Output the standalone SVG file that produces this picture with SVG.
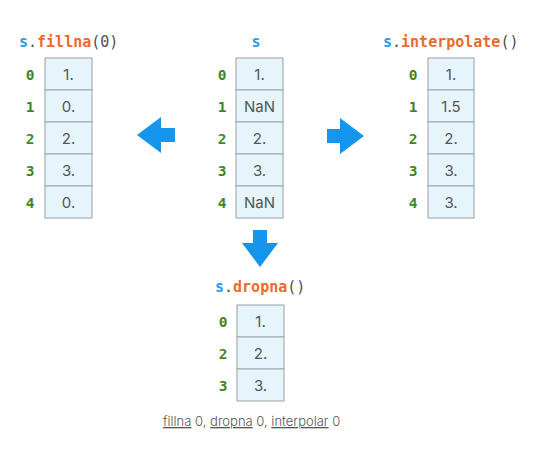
<svg xmlns="http://www.w3.org/2000/svg" width="536" height="452" viewBox="0 0 536 452">
<style>
.cell{fill:#e6f4fc;stroke:#a9aeb2;stroke-width:1.2}
.val{font-family:Inter,"Noto Sans","DejaVu Sans",sans-serif;font-size:15px;fill:#555;text-anchor:middle}
.idx{font-family:"DejaVu Sans Mono",monospace;font-size:14.5px;font-weight:bold;fill:#3f8526;text-anchor:middle}
.title{font-family:"DejaVu Sans Mono",monospace;font-size:15px;font-weight:bold}
.s{fill:#2b9ce6}
.m{fill:#ec6a2c}
.p{fill:#505050;font-weight:normal}
.arrow{fill:#1596ee}
.cap{font-family:Inter,"Noto Sans",sans-serif;font-size:13px;font-weight:300;fill:#555}
.u{text-decoration:underline}
</style>
<rect width="536" height="452" fill="#fff"/>

<g id="fillna">
<text class="title" x="19" y="47"><tspan class="s">s</tspan><tspan class="p">.</tspan><tspan class="m">fillna</tspan><tspan class="p">(0)</tspan></text>
<rect class="cell" x="45" y="58" width="47" height="32"/>
<rect class="cell" x="45" y="90" width="47" height="32"/>
<rect class="cell" x="45" y="122" width="47" height="32"/>
<rect class="cell" x="45" y="154" width="47" height="32"/>
<rect class="cell" x="45" y="186" width="47" height="32"/>
<text class="idx" x="30" y="80">0</text><text class="idx" x="30" y="112">1</text><text class="idx" x="30" y="144">2</text><text class="idx" x="30" y="176">3</text><text class="idx" x="30" y="208">4</text>
<text class="val" x="68.5" y="80">1.</text><text class="val" x="68.5" y="112">0.</text><text class="val" x="68.5" y="144">2.</text><text class="val" x="68.5" y="176">3.</text><text class="val" x="68.5" y="208">0.</text>
</g>

<g id="s">
<text class="title s" x="256" y="47" text-anchor="middle">s</text>
<rect class="cell" x="236" y="58" width="47" height="32"/>
<rect class="cell" x="236" y="90" width="47" height="32"/>
<rect class="cell" x="236" y="122" width="47" height="32"/>
<rect class="cell" x="236" y="154" width="47" height="32"/>
<rect class="cell" x="236" y="186" width="47" height="32"/>
<text class="idx" x="222" y="80">0</text><text class="idx" x="222" y="112">1</text><text class="idx" x="222" y="144">2</text><text class="idx" x="222" y="176">3</text><text class="idx" x="222" y="208">4</text>
<text class="val" x="259.5" y="80">1.</text><text class="val" x="259.5" y="112">NaN</text><text class="val" x="259.5" y="144">2.</text><text class="val" x="259.5" y="176">3.</text><text class="val" x="259.5" y="208">NaN</text>
</g>

<g id="interpolate">
<text class="title" x="383" y="47"><tspan class="s">s</tspan><tspan class="p">.</tspan><tspan class="m">interpolate</tspan><tspan class="p">()</tspan></text>
<rect class="cell" x="428" y="58" width="46" height="32"/>
<rect class="cell" x="428" y="90" width="46" height="32"/>
<rect class="cell" x="428" y="122" width="46" height="32"/>
<rect class="cell" x="428" y="154" width="46" height="32"/>
<rect class="cell" x="428" y="186" width="46" height="32"/>
<text class="idx" x="413" y="80">0</text><text class="idx" x="413" y="112">1</text><text class="idx" x="413" y="144">2</text><text class="idx" x="413" y="176">3</text><text class="idx" x="413" y="208">4</text>
<text class="val" x="451" y="80">1.</text><text class="val" x="451" y="112">1.5</text><text class="val" x="451" y="144">2.</text><text class="val" x="451" y="176">3.</text><text class="val" x="451" y="208">3.</text>
</g>

<g id="dropna">
<text class="title" x="215" y="292"><tspan class="s">s</tspan><tspan class="p">.</tspan><tspan class="m">dropna</tspan><tspan class="p">()</tspan></text>
<rect class="cell" x="237" y="305" width="47" height="32"/>
<rect class="cell" x="237" y="337" width="47" height="32"/>
<rect class="cell" x="237" y="369" width="47" height="32"/>
<text class="idx" x="223" y="327">0</text><text class="idx" x="223" y="359">2</text><text class="idx" x="223" y="391">3</text>
<text class="val" x="260.5" y="327">1.</text><text class="val" x="260.5" y="359">2.</text><text class="val" x="260.5" y="391">3.</text>
</g>

<g id="connectors">
<polygon class="arrow" points="137,135 161,117 161,128 175,128 175,142 161,142 161,153"/>
<polygon class="arrow" points="364,136 340,118 340,129 327,129 327,143 340,143 340,154"/>
<polygon class="arrow" points="260,267 242,243 253,243 253,230 267,230 267,243 278,243"/>
</g>

<text class="cap" x="163" y="426"><tspan class="u">fillna</tspan> 0, <tspan class="u">dropna</tspan> 0, <tspan class="u">interpolar</tspan> 0</text>
</svg>
